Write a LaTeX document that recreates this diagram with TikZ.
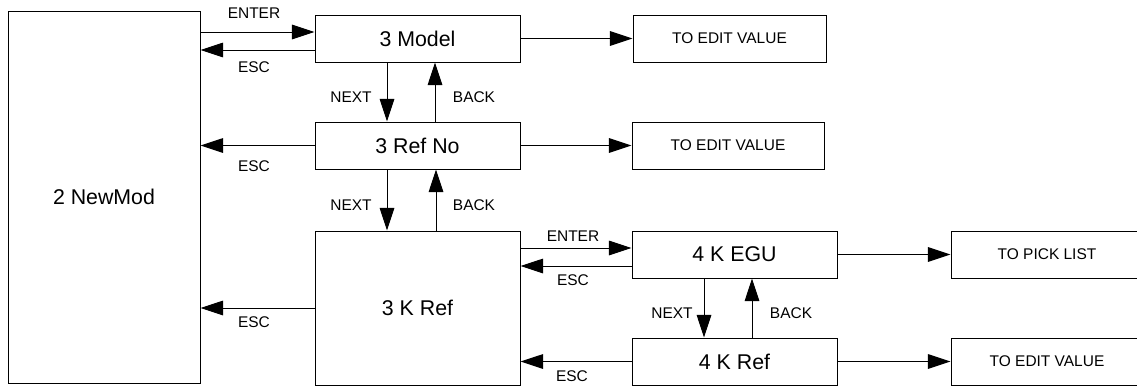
\documentclass[tikz,border=0pt]{standalone}
\usepackage{fontspec}
\setmainfont{Liberation Sans}
\usetikzlibrary{arrows.meta}

\begin{document}
\begin{tikzpicture}[x=0.75pt,y=-0.75pt,line width=0.75pt,
  box/.style 2 args={draw,inner sep=0pt,minimum width=#1*0.75pt,minimum height=#2*0.75pt,font=\fontsize{16}{19}\selectfont},
  tag/.style={inner sep=0pt,font=\fontsize{11.6}{14}\selectfont},
  arr/.style={-{Triangle[length=17pt,width=11pt]}}]
  \clip (0,0) rectangle (1137,389);
  % menu boxes
  \node[box={192}{372}] (newmod) at (104,197) {2 NewMod};
  \node[box={205}{47}] (model) at (417.5,38.5) {3 Model};
  \node[box={205}{47}] (refno) at (417.5,145.5) {3 Ref No};
  \node[box={205}{154}] (kref) at (417.5,308) {3 K Ref};
  \node[box={205}{47}] (kegu) at (734.5,254.5) {4 K EGU};
  \node[box={205}{47}] (krefb) at (734.5,361.5) {4 K Ref};
  \node[box={193}{47},font=\fontsize{11.6}{14}\selectfont] (editA) at (729.5,38.5) {TO EDIT VALUE};
  \node[box={192}{47},font=\fontsize{11.6}{14}\selectfont] (editB) at (728,145.5) {TO EDIT VALUE};
  \node[box={192}{47},font=\fontsize{11.6}{14}\selectfont] (pick) at (1047,254.5) {TO PICK LIST};
  \node[box={192}{47},font=\fontsize{11.6}{14}\selectfont] (editC) at (1047,361.5) {TO EDIT VALUE};
  % key arrows
  \draw[arr] (newmod.east |- 0,32) -- (model.west |- 0,32);
  \draw[arr] (model.west |- 0,50) -- (newmod.east |- 0,50);
  \draw[arr] (model.east) -- (editA.west);
  \draw[arr] (model.south -| 387,0) -- (refno.north -| 387,0);
  \draw[arr] (refno.north -| 435,0) -- (model.south -| 435,0);
  \draw[arr] (refno.west) -- (newmod.east |- refno.west);
  \draw[arr] (refno.east) -- (editB.west);
  \draw[arr] (refno.south -| 387,0) -- (kref.north -| 387,0);
  \draw[arr] (kref.north -| 436,0) -- (refno.south -| 436,0);
  \draw[arr] (kref.west) -- (newmod.east |- kref.west);
  \draw[arr] (kref.east |- 0,248) -- (kegu.west |- 0,248);
  \draw[arr] (kegu.west |- 0,266) -- (kref.east |- 0,266);
  \draw[arr] (krefb.west) -- (kref.east |- krefb.west);
  \draw[arr] (kegu.east) -- (pick.west);
  \draw[arr] (krefb.east) -- (editC.west);
  \draw[arr] (kegu.south -| 704,0) -- (krefb.north -| 704,0);
  \draw[arr] (krefb.north -| 752,0) -- (kegu.south -| 752,0);
  % key labels
  \foreach \nm/\txt/\x/\y in {enterA/ENTER/254/13,escA/ESC/254/67,escB/ESC/254/166,escC/ESC/254/322,
    nextA/NEXT/351/97,backA/BACK/474/97,nextB/NEXT/351/205,backB/BACK/474/205,
    enterC/ENTER/573/236,escD/ESC/573/280,escE/ESC/572/376,nextC/NEXT/672/313,backC/BACK/791/313}{
    \node[tag] (\nm) at (\x,\y) {\txt};
  }
\end{tikzpicture}
\end{document}
